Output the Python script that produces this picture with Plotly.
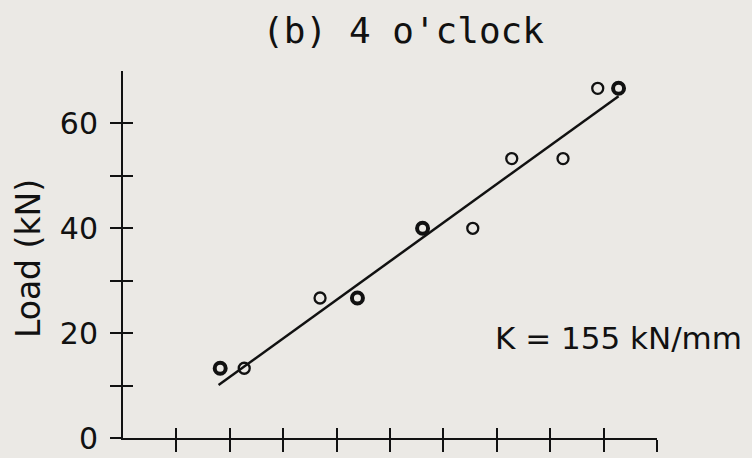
import plotly.graph_objects as go

# readings (x in plot units, load in kN); "double" marks points plotted twice
disp = [1.82, 2.27, 3.69, 4.39, 5.61, 6.55, 7.28, 8.24, 8.89, 9.28]
load = [13.3, 13.3, 26.7, 26.7, 40.0, 40.0, 53.3, 53.3, 66.7, 66.7]
double = [True, False, False, True, True, False, False, False, False, True]

# fitted line ends
fit_x = [1.79, 9.28]
fit_y = [10.1, 65.2]

y_ticks = [0, 10, 20, 30, 40, 50, 60]
y_labels = ["0", "", "20", "", "40", "", "60"]
x_ticks = [1, 2, 3, 4, 5, 6, 7, 8, 9, 10]

bg = "#ebe9e5"
ink = "#111111"
font = "DejaVu Sans"

fig = go.Figure()

fig.add_trace(go.Scatter(x=fit_x, y=fit_y, mode="lines",
                         line=dict(color=ink, width=2.5),
                         showlegend=False, hoverinfo="skip"))
fig.add_trace(go.Scatter(x=disp, y=load, mode="markers",
                         marker=dict(symbol="circle-open", size=11,
                                     color=ink,
                                     line=dict(color=ink,
                                               width=[4 if d else 2.3
                                                      for d in double])),
                         showlegend=False))
# dummy trace so the overlay axes (inward tick halves) get drawn
fig.add_trace(go.Scatter(x=[None], y=[None], xaxis="x2", yaxis="y2",
                         showlegend=False, hoverinfo="skip"))

fig.add_annotation(x=6.93, y=19.1, xref="x", yref="y",
                   text="K = 155 kN/mm", showarrow=False,
                   xanchor="left", yanchor="middle",
                   font=dict(family=font, size=31, color=ink))
fig.add_annotation(x=-0.178, y=0.49, xref="paper", yref="paper",
                   text="Load (kN)", showarrow=False, textangle=-90,
                   xanchor="center", yanchor="middle",
                   font=dict(family=font, size=33, color=ink))

fig.update_layout(
    width=752, height=458,
    margin=dict(l=123, r=95, t=71, b=20),
    paper_bgcolor=bg, plot_bgcolor=bg,
    title=dict(text="(b) 4 o'clock", x=0.536, xref="container",
               xanchor="center", y=0.934, yanchor="middle",
               font=dict(family="DejaVu Sans Mono", size=36, color=ink)),
    xaxis=dict(range=[0, 10], showgrid=False, zeroline=False,
               automargin=False,
               showline=True, linecolor=ink, linewidth=2,
               tickmode="array", tickvals=x_ticks, showticklabels=False,
               ticks="outside", ticklen=12, tickwidth=2, tickcolor=ink),
    yaxis=dict(range=[0, 70], showgrid=False, zeroline=False,
               automargin=False,
               showline=True, linecolor=ink, linewidth=2,
               tickmode="array", tickvals=y_ticks, ticktext=y_labels,
               ticks="outside", ticklen=11, tickwidth=2, tickcolor=ink,
               ticklabelstandoff=6,
               tickfont=dict(family=font, size=30, color=ink)),
    xaxis2=dict(range=[0, 10], overlaying="x", anchor="y2", side="bottom",
                automargin=False,
                showgrid=False, zeroline=False, showline=False,
                tickmode="array", tickvals=x_ticks, showticklabels=False,
                ticks="inside", ticklen=10, tickwidth=2, tickcolor=ink),
    yaxis2=dict(range=[0, 70], overlaying="y", anchor="x2", side="left",
                automargin=False,
                showgrid=False, zeroline=False, showline=False,
                tickmode="array", tickvals=y_ticks + [70],
                showticklabels=False,
                ticks="inside", ticklen=10, tickwidth=2, tickcolor=ink),
)

# drop the default page margin so the figure fills the window
fig.write_html("out.html",
               config={"displayModeBar": False},
               post_script="document.body.style.margin='0';"
                           "document.body.style.background='#ebe9e5';")
